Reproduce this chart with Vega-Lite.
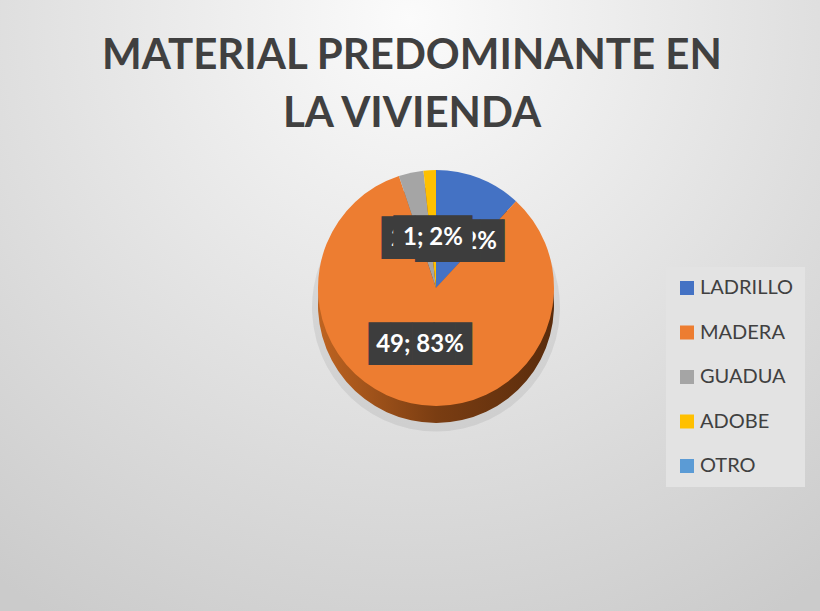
{
  "$schema": "https://vega.github.io/schema/vega-lite/v6.json",
  "width": 820,
  "height": 611,
  "autosize": {"type": "fit", "contains": "padding"},
  "padding": 0,
  "background": "#d0d0d0",
  "title": {
    "text": ["MATERIAL PREDOMINANTE EN", "LA VIVIENDA"],
    "font": "Lato",
    "fontSize": 42,
    "fontWeight": "bold",
    "color": "#404040",
    "anchor": "middle",
    "frame": "group",
    "baseline": "bottom",
    "lineHeight": 58,
    "offset": -178,
    "dx": 2
  },
  "config": {
    "view": {"stroke": null},
    "legend": {
      "orient": "none",
      "legendX": 666,
      "legendY": 267,
      "title": null,
      "symbolType": "square",
      "symbolSize": 196,
      "symbolStrokeWidth": 0,
      "labelFont": "Lato",
      "labelFontSize": 20,
      "labelColor": "#404040",
      "labelOffset": 3,
      "fillColor": "#e3e3e3",
      "padding": 11,
      "rowPadding": 24.5
    }
  },
  "layer": [
    {
      "data": {"values": [{}]},
      "mark": {
        "type": "rect",
        "fill": {
          "gradient": "radial",
          "x1": 0.5, "y1": 0.15, "r1": 0,
          "x2": 0.5, "y2": 0.15, "r2": 0.85,
          "stops": [
            {"offset": 0, "color": "#fbfbfb"},
            {"offset": 1, "color": "#cbcbcb"}
          ]
        }
      },
      "encoding": {}
    },
    {
      "data": {
        "values": [
          {"material": "LADRILLO", "valor": 7, "etiqueta": "7; 12%", "orden": 1},
          {"material": "MADERA", "valor": 49, "etiqueta": "49; 83%", "orden": 2},
          {"material": "GUADUA", "valor": 2, "etiqueta": "2; 3%", "orden": 3},
          {"material": "ADOBE", "valor": 1, "etiqueta": "1; 2%", "orden": 4},
          {"material": "OTRO", "valor": 0, "etiqueta": "0; 0%", "orden": 5}
        ]
      },
      "encoding": {
        "theta": {"field": "valor", "type": "quantitative", "stack": true},
        "order": {"field": "orden", "type": "quantitative", "sort": "ascending"}
      },
      "layer": [
        {
          "mark": {"type": "arc", "outerRadius": 124, "x": {"expr": "width/2+26"}, "y": {"expr": "height/2+2"}, "fill": "#000000", "opacity": 0.07, "strokeWidth": 0}
        },
        {
          "mark": {
            "type": "arc", "outerRadius": 118, "x": {"expr": "width/2+26"}, "y": {"expr": "height/2-0.5"}, "strokeWidth": 0,
            "fill": {
              "gradient": "linear", "x1": 0, "y1": 0, "x2": 1, "y2": 0,
              "stops": [
                {"offset": 0, "color": "#bf6421"},
                {"offset": 0.5, "color": "#7a3d12"},
                {"offset": 1, "color": "#5a2c0c"}
              ]
            }
          }
        },
        {
          "mark": {"type": "arc", "outerRadius": 118, "x": {"expr": "width/2+26"}, "y": {"expr": "height/2-17.5"}, "strokeWidth": 0},
          "encoding": {
            "color": {
              "field": "material",
              "type": "nominal",
              "sort": ["LADRILLO", "MADERA", "GUADUA", "ADOBE", "OTRO"],
              "scale": {
                "domain": ["LADRILLO", "MADERA", "GUADUA", "ADOBE", "OTRO"],
                "range": ["#4472C4", "#ED7D31", "#A5A5A5", "#FFC000", "#5B9BD5"]
              },
              "legend": {}
            }
          }
        },
        {
          "mark": {"type": "text", "font": "DejaVu Sans Mono", "fontSize": 36, "align": "center", "baseline": "middle", "dx": 9.5, "fill": "#3d3d3d", "thetaOffset": 0.109, "x": {"expr": "width/2+26"}, "y": {"expr": "height/2-17.5"}},
          "encoding": {"radius": {"value": 51.9}, "text": {"value": "████▏"}, "opacity": {"condition": {"test": "datum.material === 'LADRILLO'", "value": 1}, "value": 0}}
        },
        {
          "mark": {"type": "text", "font": "Lato", "fontWeight": "bold", "fontSize": 24, "align": "center", "baseline": "middle", "fill": "#ffffff", "thetaOffset": 0.109, "x": {"expr": "width/2+26"}, "y": {"expr": "height/2-17.5"}},
          "encoding": {"radius": {"value": 51.9}, "text": {"field": "etiqueta"}, "opacity": {"condition": {"test": "datum.material === 'LADRILLO'", "value": 1}, "value": 0}}
        },
        {
          "mark": {"type": "text", "font": "DejaVu Sans Mono", "fontSize": 36, "align": "center", "baseline": "middle", "dx": 4, "fill": "#3d3d3d", "thetaOffset": -0.082, "x": {"expr": "width/2+26"}, "y": {"expr": "height/2-17.5"}},
          "encoding": {"radius": {"value": 51.7}, "text": {"value": "███▋"}, "opacity": {"condition": {"test": "datum.material === 'GUADUA'", "value": 1}, "value": 0}}
        },
        {
          "mark": {"type": "text", "font": "Lato", "fontWeight": "bold", "fontSize": 24, "align": "center", "baseline": "middle", "fill": "#ffffff", "thetaOffset": -0.082, "x": {"expr": "width/2+26"}, "y": {"expr": "height/2-17.5"}},
          "encoding": {"radius": {"value": 51.7}, "text": {"field": "etiqueta"}, "opacity": {"condition": {"test": "datum.material === 'GUADUA'", "value": 1}, "value": 0}}
        },
        {
          "mark": {"type": "text", "font": "DejaVu Sans Mono", "fontSize": 36, "align": "center", "baseline": "middle", "dx": 4, "fill": "#3d3d3d", "thetaOffset": -0.008, "x": {"expr": "width/2+26"}, "y": {"expr": "height/2-17.5"}},
          "encoding": {"radius": {"value": 49.6}, "text": {"value": "███▋"}, "opacity": {"condition": {"test": "datum.material === 'ADOBE'", "value": 1}, "value": 0}}
        },
        {
          "mark": {"type": "text", "font": "Lato", "fontWeight": "bold", "fontSize": 24, "align": "center", "baseline": "middle", "fill": "#ffffff", "thetaOffset": -0.008, "x": {"expr": "width/2+26"}, "y": {"expr": "height/2-17.5"}},
          "encoding": {"radius": {"value": 49.6}, "text": {"field": "etiqueta"}, "opacity": {"condition": {"test": "datum.material === 'ADOBE'", "value": 1}, "value": 0}}
        },
        {
          "mark": {"type": "text", "font": "DejaVu Sans Mono", "fontSize": 36, "align": "center", "baseline": "middle", "dx": 3, "fill": "#3d3d3d", "thetaOffset": 0.061, "x": {"expr": "width/2+26"}, "y": {"expr": "height/2-17.5"}},
          "encoding": {"radius": {"value": 59.2}, "text": {"value": "████▊"}, "opacity": {"condition": {"test": "datum.material === 'MADERA'", "value": 1}, "value": 0}}
        },
        {
          "mark": {"type": "text", "font": "Lato", "fontWeight": "bold", "fontSize": 24, "align": "center", "baseline": "middle", "fill": "#ffffff", "thetaOffset": 0.061, "x": {"expr": "width/2+26"}, "y": {"expr": "height/2-17.5"}},
          "encoding": {"radius": {"value": 59.2}, "text": {"field": "etiqueta"}, "opacity": {"condition": {"test": "datum.material === 'MADERA'", "value": 1}, "value": 0}}
        }
      ]
    }
  ]
}
